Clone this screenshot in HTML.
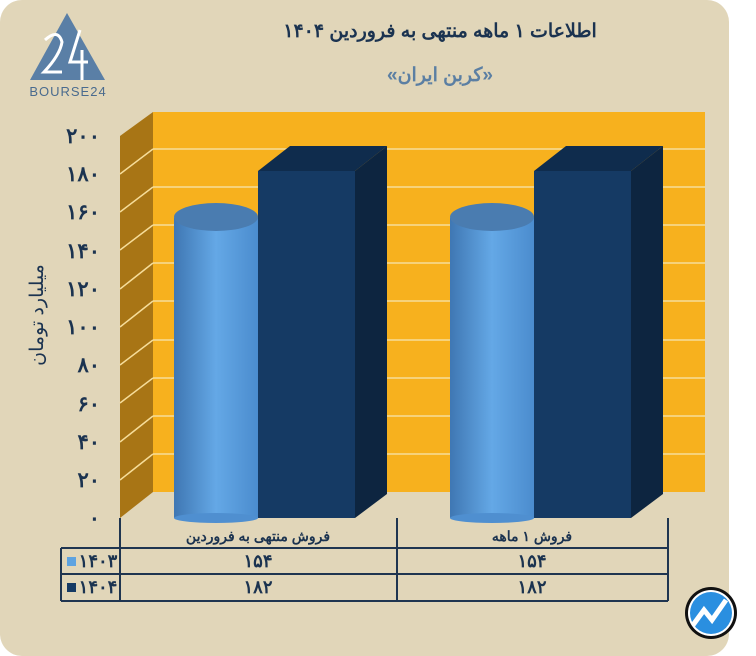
<!DOCTYPE html>
<html><head><meta charset="utf-8"><style>
body{margin:0;background:#fff;width:756px;height:656px;overflow:hidden}
svg{display:block}
text{font-family:"Liberation Sans","Noto Sans CJK SC",sans-serif;font-weight:bold;fill:#1b3350}
</style></head><body>
<svg width="756" height="656" viewBox="0 0 756 656">
<defs>
<linearGradient id="cyl" x1="0" x2="1" y1="0" y2="0">
<stop offset="0" stop-color="#3f77b3"/><stop offset="0.5" stop-color="#64a8e6"/><stop offset="1" stop-color="#4b8cce"/></linearGradient>
</defs>
<rect x="0" y="0" width="729" height="656" rx="22" fill="#e1d6b9"/>
<!-- logo -->
<polygon points="67,13 30,80 105,80" fill="#5a7fa6"/>
<path d="M45,40 Q58,28 62,42 Q60,55 44,72 L62,72" stroke="#fff" stroke-width="3" fill="none"/>
<path d="M80,30 L70,62 L88,62 M82,50 L82,80" stroke="#fff" stroke-width="3" fill="none"/>
<text x="68" y="96" font-size="13" text-anchor="middle" style="fill:#4a6b8e;font-weight:normal;letter-spacing:1px">BOURSE24</text>
<text x="440" y="37" font-size="19" text-anchor="middle" direction="rtl">اطلاعات ۱ ماهه منتهی به فروردین ۱۴۰۴</text>
<text x="440" y="81" font-size="19" text-anchor="middle" direction="rtl" style="fill:#5b7fa3">«کربن ایران»</text>
<!-- walls -->
<rect x="153" y="112" width="552" height="380" fill="#f7b11e"/>
<polygon points="120,136 153,112 153,492 120,518" fill="#a87515"/>
<g stroke="#f6dd9a" stroke-width="1.5">
<line x1="153" y1="149" x2="705" y2="149"/><line x1="153" y1="187" x2="705" y2="187"/>
<line x1="153" y1="225" x2="705" y2="225"/><line x1="153" y1="263" x2="705" y2="263"/>
<line x1="153" y1="301" x2="705" y2="301"/><line x1="153" y1="340" x2="705" y2="340"/>
<line x1="153" y1="378" x2="705" y2="378"/><line x1="153" y1="416" x2="705" y2="416"/>
<line x1="153" y1="454" x2="705" y2="454"/>
<line x1="120" y1="174" x2="153" y2="149"/><line x1="120" y1="212" x2="153" y2="187"/>
<line x1="120" y1="250" x2="153" y2="225"/><line x1="120" y1="289" x2="153" y2="263"/>
<line x1="120" y1="327" x2="153" y2="301"/><line x1="120" y1="365" x2="153" y2="340"/>
<line x1="120" y1="403" x2="153" y2="378"/><line x1="120" y1="442" x2="153" y2="416"/>
<line x1="120" y1="480" x2="153" y2="454"/>
</g>
<!-- y labels -->
<g font-size="21" text-anchor="end" style="font-family:'DejaVu Sans','Liberation Sans',sans-serif">
<text x="100" y="143">۲۰۰</text><text x="100" y="181">۱۸۰</text><text x="100" y="219">۱۶۰</text>
<text x="100" y="258">۱۴۰</text><text x="100" y="296">۱۲۰</text><text x="100" y="334">۱۰۰</text>
<text x="100" y="372">۸۰</text><text x="100" y="411">۶۰</text><text x="100" y="449">۴۰</text>
<text x="100" y="487">۲۰</text><text x="100" y="525">۰</text>
</g>
<text transform="translate(43,315) rotate(-90)" font-size="19" text-anchor="middle" direction="rtl" style="font-weight:normal">میلیارد تومان</text>
<!-- group 1 -->
<rect x="174" y="218" width="84" height="300" fill="url(#cyl)"/>
<ellipse cx="216" cy="518" rx="42" ry="5" fill="#4f8fd0"/>
<ellipse cx="216" cy="217" rx="42" ry="14" fill="#4a7cb0"/>
<polygon points="258,171 290,146 387,146 355,171" fill="#0f2c4d"/>
<polygon points="355,171 387,146 387,494 355,518" fill="#0d2540"/>
<rect x="258" y="171" width="97" height="347" fill="#153a64"/>
<!-- group 2 -->
<rect x="450" y="218" width="84" height="300" fill="url(#cyl)"/>
<ellipse cx="492" cy="518" rx="42" ry="5" fill="#4f8fd0"/>
<ellipse cx="492" cy="217" rx="42" ry="14" fill="#4a7cb0"/>
<polygon points="534,171 566,146 663,146 631,171" fill="#0f2c4d"/>
<polygon points="631,171 663,146 663,494 631,518" fill="#0d2540"/>
<rect x="534" y="171" width="97" height="347" fill="#153a64"/>
<!-- table -->
<g stroke="#1f3550" stroke-width="2">
<line x1="120" y1="518" x2="120" y2="601"/><line x1="397" y1="518" x2="397" y2="601"/>
<line x1="668" y1="518" x2="668" y2="601"/>
<line x1="61" y1="548" x2="668" y2="548"/><line x1="61" y1="574" x2="668" y2="574"/>
<line x1="61" y1="601" x2="668" y2="601"/>
<line x1="61" y1="548" x2="61" y2="601"/>
</g>
<g font-size="14" text-anchor="middle">
<text x="258" y="541" direction="rtl">فروش منتهی به  فروردین</text>
<text x="532" y="541" direction="rtl">فروش ۱  ماهه</text>
</g>
<g font-size="18" text-anchor="middle" style="font-family:'DejaVu Sans','Liberation Sans',sans-serif">
<text x="258" y="567">۱۵۴</text><text x="532" y="567">۱۵۴</text>
<text x="258" y="593">۱۸۲</text><text x="532" y="593">۱۸۲</text>
<text x="98" y="567">۱۴۰۳</text><text x="98" y="593">۱۴۰۴</text>
</g>
<rect x="67" y="557" width="9" height="9" fill="#5ea3e0"/>
<rect x="67" y="583" width="9" height="9" fill="#153a64"/>
<!-- icon -->
<circle cx="711" cy="613" r="26" fill="#111"/>
<circle cx="711" cy="613" r="23" fill="#fff"/>
<circle cx="711" cy="613" r="21" fill="#2a8fe0"/>
<path d="M693,625 L704,610 L712,620 L726,600" stroke="#fff" stroke-width="5" fill="none"/>
</svg>
</body></html>
